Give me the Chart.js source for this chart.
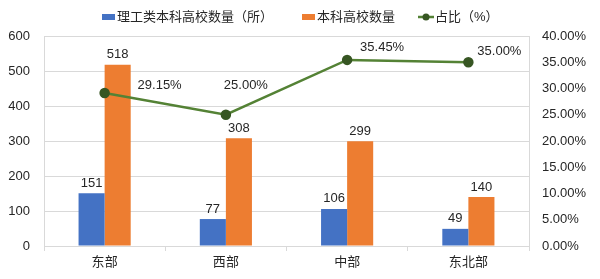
<!DOCTYPE html>
<html>
<head>
<meta charset="utf-8">
<script src="https://cdn.jsdelivr.net/npm/chart.js@4"></script>
<style>
  html, body { margin: 0; padding: 0; background: #fff; }
  #chart { display: block; }
</style>
</head>
<body>
<canvas id="chart" width="600" height="279"></canvas>
<script>
// data
const regions = ['东部', '西部', '中部', '东北部'];
const scienceCounts = [151, 77, 106, 49];
const undergradCounts = [518, 308, 299, 140];
const sharePct = [29.15, 25.00, 35.45, 35.00];
const leftTicks = [0, 100, 200, 300, 400, 500, 600];
const rightTicks = [0, 5, 10, 15, 20, 25, 30, 35, 40];

// where each percentage label sits relative to its point
const pctLabelOffsets = [[55, -8], [20, -29], [35, -12], [31, -11]];

const FONT = "'Liberation Sans', Arial, 'Noto Sans CJK SC', sans-serif";
const TEXT = '#262626';
const GRID = '#d9d9d9';

/**
 * ข้อความบนแท่งและจุด
 */
const valueLabels = {
  id: 'valueLabels',
  afterDatasetsDraw(chart) {
    const ctx = chart.ctx;
    ctx.save();
    ctx.font = '13px ' + FONT;
    ctx.fillStyle = TEXT;
    ctx.textAlign = 'center';
    ctx.textBaseline = 'middle';
    chart.data.datasets.forEach((ds, i) => {
      const meta = chart.getDatasetMeta(i);
      meta.data.forEach((el, j) => {
        if (ds.type === 'line') {
          const off = pctLabelOffsets[j];
          ctx.fillText(ds.data[j].toFixed(2) + '%', el.x + off[0], el.y + off[1]);
        } else {
          ctx.fillText(ds.data[j], el.x, el.y - 10);
        }
      });
    });
    ctx.restore();
  }
};

/**
 * กรอบพื้นที่กราฟ + legend
 */
const frameAndLegend = {
  id: 'frameAndLegend',
  beforeDatasetsDraw(chart) {
    const { ctx, chartArea: a } = chart;
    ctx.save();
    ctx.strokeStyle = GRID;
    ctx.lineWidth = 1;
    ctx.strokeRect(Math.round(a.left) + 0.5, Math.round(a.top) + 0.5,
      Math.round(a.right - a.left), Math.round(a.bottom - a.top));
    ctx.restore();
  },
  afterDraw(chart) {
    const ctx = chart.ctx;
    const ds = chart.data.datasets;
    const y = 17;
    ctx.save();
    ctx.font = '13px ' + FONT;
    ctx.fillStyle = TEXT;
    ctx.textBaseline = 'middle';
    // bars
    ctx.fillStyle = ds[1].backgroundColor;
    ctx.fillRect(102, y - 3, 13, 6);
    ctx.fillStyle = TEXT;
    ctx.fillText(ds[1].label, 117, y);
    ctx.fillStyle = ds[2].backgroundColor;
    ctx.fillRect(302, y - 3, 13, 6);
    ctx.fillStyle = TEXT;
    ctx.fillText(ds[2].label, 317, y);
    // line
    ctx.strokeStyle = ds[0].borderColor;
    ctx.lineWidth = 2.5;
    ctx.beginPath();
    ctx.moveTo(418, y);
    ctx.lineTo(434, y);
    ctx.stroke();
    ctx.fillStyle = ds[0].pointBackgroundColor;
    ctx.beginPath();
    ctx.arc(426, y, 3.5, 0, Math.PI * 2);
    ctx.fill();
    ctx.fillStyle = TEXT;
    ctx.fillText(ds[0].label, 435, y);
    ctx.restore();
  }
};

new Chart(document.getElementById('chart'), {
  data: {
    labels: regions,
    datasets: [
      {
        type: 'line',
        label: '占比（%）',
        data: sharePct,
        yAxisID: 'y1',
        borderColor: '#548235',
        borderWidth: 2.5,
        pointBackgroundColor: '#375623',
        pointBorderColor: '#375623',
        pointRadius: 4,
        tension: 0,
        order: 0
      },
      {
        type: 'bar',
        label: '理工类本科高校数量（所）',
        data: scienceCounts,
        yAxisID: 'y',
        backgroundColor: '#4472C4',
        barPercentage: 1,
        categoryPercentage: 0.43,
        order: 1
      },
      {
        type: 'bar',
        label: '本科高校数量',
        data: undergradCounts,
        yAxisID: 'y',
        backgroundColor: '#ED7D31',
        barPercentage: 1,
        categoryPercentage: 0.43,
        order: 1
      }
    ]
  },
  options: {
    responsive: false,
    animation: false,
    layout: { padding: { top: 36, bottom: 0, left: 0, right: 0 } },
    plugins: {
      legend: { display: false },
      tooltip: { enabled: false }
    },
    scales: {
      x: {
        offset: true,
        grid: { offset: true, drawOnChartArea: false, drawTicks: true, tickLength: 5, color: GRID },
        border: { color: GRID },
        ticks: { color: TEXT, font: { size: 13, family: FONT }, padding: 4 },
        afterFit: (s) => { s.height = 33; }
      },
      y: {
        position: 'left',
        min: 0,
        max: 600,
        afterBuildTicks: (s) => { s.ticks = leftTicks.map(v => ({ value: v })); },
        grid: { color: GRID, drawTicks: false },
        border: { display: false },
        ticks: { color: TEXT, font: { size: 13, family: FONT }, padding: 14 },
        afterFit: (s) => { s.width = 44; }
      },
      y1: {
        position: 'right',
        min: 0,
        max: 40,
        afterBuildTicks: (s) => { s.ticks = rightTicks.map(v => ({ value: v })); },
        grid: { drawOnChartArea: false, drawTicks: false },
        border: { display: false },
        ticks: {
          color: TEXT,
          font: { size: 13, family: FONT },
          padding: 13,
          callback: (v) => v.toFixed(2) + '%'
        },
        afterFit: (s) => { s.width = 71; }
      }
    }
  },
  plugins: [frameAndLegend, valueLabels]
});
</script>
</body>
</html>
